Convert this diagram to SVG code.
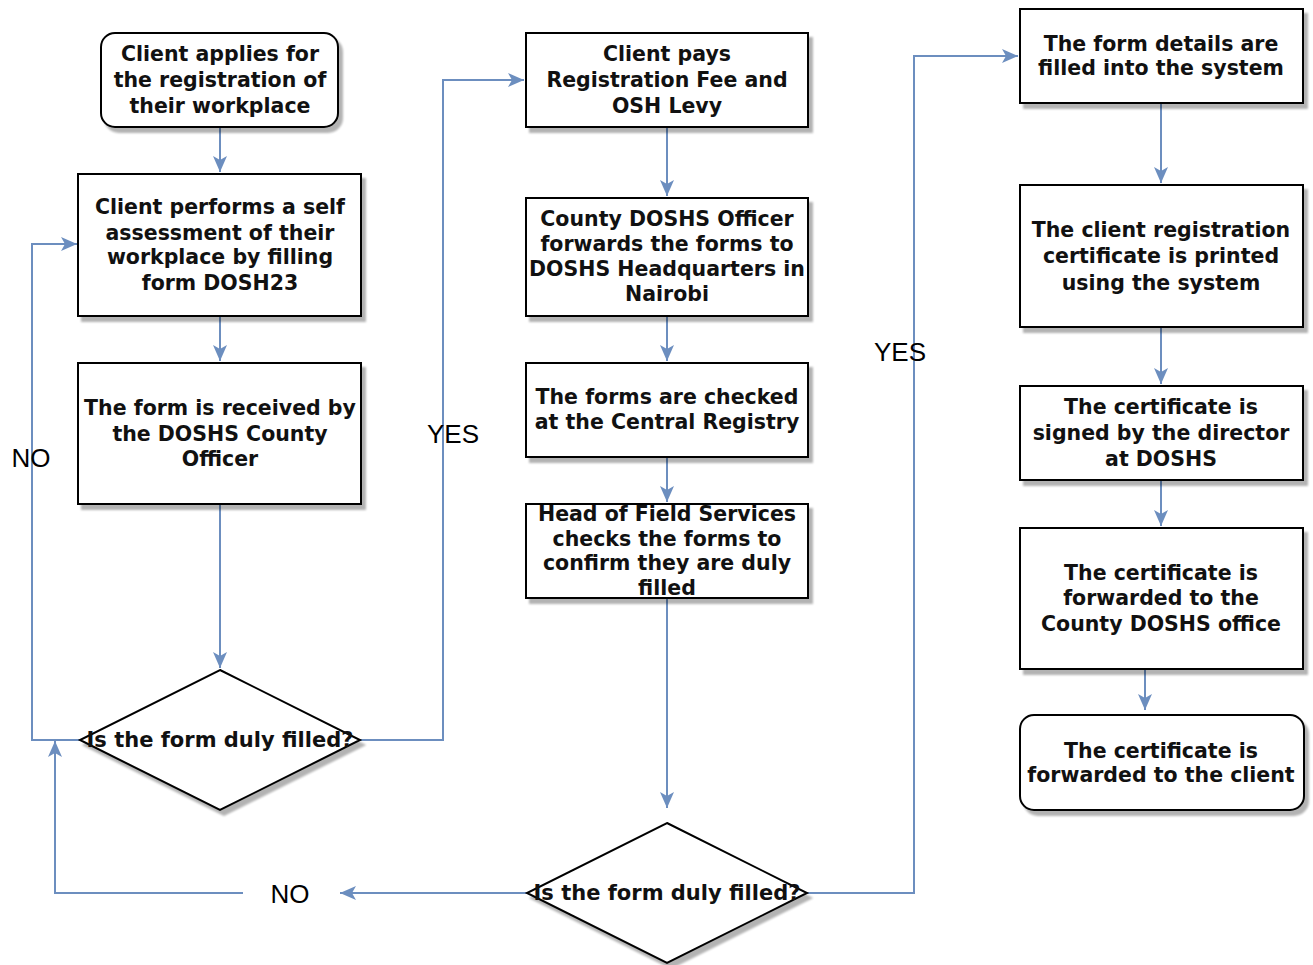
<svg xmlns="http://www.w3.org/2000/svg" width="1313" height="965" viewBox="0 0 1313 965">
<style>
.box{fill:#fff;stroke:#000;stroke-width:2;filter:url(#sh)}
.t{font-family:"DejaVu Sans",Verdana,sans-serif;font-weight:bold;font-size:20.5px;fill:#111;text-anchor:middle}
.lbl{font-family:"Liberation Sans",Arial,sans-serif;font-size:26px;fill:#000;text-anchor:middle}
.c{fill:none;stroke:#6c8ebf;stroke-width:2}
.ca{fill:none;stroke:#6c8ebf;stroke-width:2;marker-end:url(#arr)}
</style>
<defs>
<filter id="sh" x="-10%" y="-10%" width="130%" height="130%">
<feGaussianBlur in="SourceAlpha" stdDeviation="1"/>
<feOffset dx="4" dy="5" result="o"/>
<feComponentTransfer><feFuncA type="linear" slope="0.3"/></feComponentTransfer>
<feMerge><feMergeNode/><feMergeNode in="SourceGraphic"/></feMerge>
</filter>
<marker id="arr" markerUnits="userSpaceOnUse" markerWidth="18" markerHeight="18" viewBox="0 0 18 18" refX="17" refY="9" orient="auto">
<path d="M1,2 L17,9 L1,16 L5,9 Z" fill="#6c8ebf"/>
</marker>
</defs>
<rect width="1313" height="965" fill="#fff"/>

<g id="connectors">
<path class="ca" d="M220,127 L220,172"/>
<path class="ca" d="M220,316 L220,361"/>
<path class="ca" d="M220,504 L220,668"/>
<path class="ca" d="M80,740 L32,740 L32,244 L77,244"/>
<path class="ca" d="M360,740 L443,740 L443,80 L524,80"/>
<path class="ca" d="M667,127 L667,196"/>
<path class="ca" d="M667,316 L667,361"/>
<path class="ca" d="M667,457 L667,502"/>
<path class="ca" d="M667,598 L667,808"/>
<path class="ca" d="M527,893 L340,893"/>
<path class="ca" d="M243,893 L55,893 L55,741"/>
<path class="ca" d="M807,893 L914,893 L914,56 L1018,56"/>
<path class="ca" d="M1161,103 L1161,183"/>
<path class="ca" d="M1161,327 L1161,384"/>
<path class="ca" d="M1161,480 L1161,526"/>
<path class="ca" d="M1145,669 L1145,710"/>
<text class="lbl" x="31" y="467">NO</text>
<text class="lbl" x="453" y="443">YES</text>
<text class="lbl" x="290" y="903">NO</text>
<text class="lbl" x="900" y="361">YES</text>
</g>

<g id="n1">
<rect class="box" x="101" y="33" width="237" height="94" rx="14"/>
<text class="t" x="220" y="61">Client applies for</text>
<text class="t" x="220" y="87">the registration of</text>
<text class="t" x="220" y="113">their workplace</text>
</g>
<g id="n2">
<rect class="box" x="78" y="174" width="283" height="142"/>
<text class="t" x="220" y="214">Client performs a self</text>
<text class="t" x="220" y="240">assessment of their</text>
<text class="t" x="220" y="264">workplace by filling</text>
<text class="t" x="220" y="290">form DOSH23</text>
</g>
<g id="n3">
<rect class="box" x="78" y="363" width="283" height="141"/>
<text class="t" x="220" y="415">The form is received by</text>
<text class="t" x="220" y="441">the DOSHS County</text>
<text class="t" x="220" y="466">Officer</text>
</g>
<g id="d1">
<polygon class="box" points="220,670 360,740 220,810 80,740"/>
<text class="t" x="220" y="747" style="font-size:21px">Is the form duly filled?</text>
</g>

<g id="n4">
<rect class="box" x="526" y="33" width="282" height="94"/>
<text class="t" x="667" y="61">Client pays</text>
<text class="t" x="667" y="87">Registration Fee and</text>
<text class="t" x="667" y="113">OSH Levy</text>
</g>
<g id="n5">
<rect class="box" x="526" y="198" width="282" height="118"/>
<text class="t" x="667" y="226">County DOSHS Officer</text>
<text class="t" x="667" y="251">forwards the forms to</text>
<text class="t" x="667" y="276">DOSHS Headquarters in</text>
<text class="t" x="667" y="301">Nairobi</text>
</g>
<g id="n6">
<rect class="box" x="526" y="363" width="282" height="94"/>
<text class="t" x="667" y="404">The forms are checked</text>
<text class="t" x="667" y="429">at the Central Registry</text>
</g>
<g id="n7">
<rect class="box" x="526" y="504" width="282" height="94"/>
<text class="t" x="667" y="521">Head of Field Services</text>
<text class="t" x="667" y="546">checks the forms to</text>
<text class="t" x="667" y="570">confirm they are duly</text>
<text class="t" x="667" y="595">filled</text>
</g>
<g id="d2">
<polygon class="box" points="667,823 807,893 667,963 527,893"/>
<text class="t" x="667" y="900" style="font-size:21px">Is the form duly filled?</text>
</g>

<g id="n8">
<rect class="box" x="1020" y="9" width="283" height="94"/>
<text class="t" x="1161" y="51">The form details are</text>
<text class="t" x="1161" y="75">filled into the system</text>
</g>
<g id="n9">
<rect class="box" x="1020" y="185" width="283" height="142"/>
<text class="t" x="1161" y="237">The client registration</text>
<text class="t" x="1161" y="263">certificate is printed</text>
<text class="t" x="1161" y="290">using the system</text>
</g>
<g id="n10">
<rect class="box" x="1020" y="386" width="283" height="94"/>
<text class="t" x="1161" y="414">The certificate is</text>
<text class="t" x="1161" y="440">signed by the director</text>
<text class="t" x="1161" y="466">at DOSHS</text>
</g>
<g id="n11">
<rect class="box" x="1020" y="528" width="283" height="141"/>
<text class="t" x="1161" y="580">The certificate is</text>
<text class="t" x="1161" y="605">forwarded to the</text>
<text class="t" x="1161" y="631">County DOSHS office</text>
</g>
<g id="n12">
<rect class="box" x="1020" y="715" width="284" height="95" rx="14"/>
<text class="t" x="1161" y="758">The certificate is</text>
<text class="t" x="1161" y="782">forwarded to the client</text>
</g>
</svg>
